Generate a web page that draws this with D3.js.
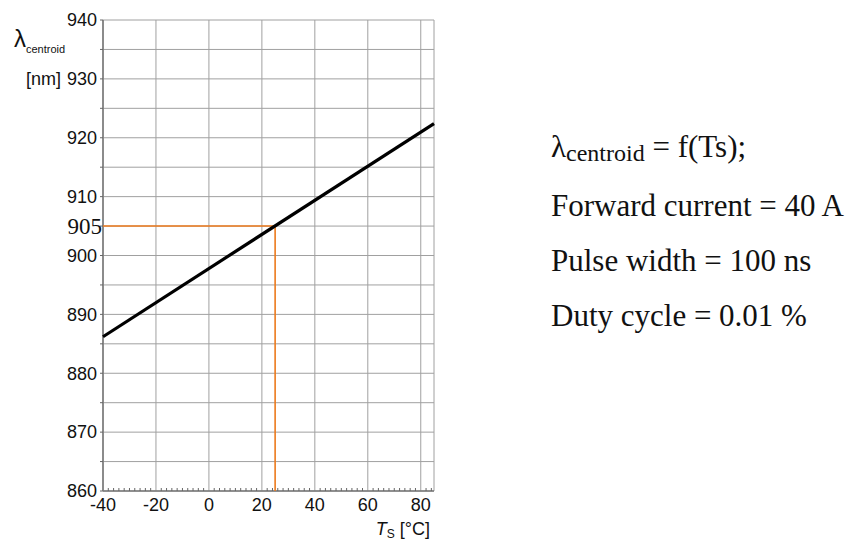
<!DOCTYPE html>
<html>
<head>
<meta charset="utf-8">
<title>Centroid wavelength vs. temperature</title>
<style>
  body { margin: 0; background: #fff; }
  svg text { font-family: "Liberation Sans", Arial, sans-serif; fill: #111; }
  svg text.serif { font-family: "Liberation Serif", "Times New Roman", serif; }
  .grid line { stroke: #a0a0a0; stroke-width: 1; }
</style>
</head>
<body>
<svg id="chart" width="858" height="542"></svg>

<script src="https://cdnjs.cloudflare.com/ajax/libs/d3/7.8.5/d3.min.js"></script>
<script>

// curve: centroid wavelength [nm] against case temperature [°C]
var tempC     = [-40, 85];
var lambdaNm  = [886.2, 922.4];

// marked operating point
var markT      = 25;
var markLambda = 905;

// axis ticks
var xTicks     = [-40, -20, 0, 20, 40, 60, 80];
var yTicks     = [860, 870, 880, 890, 900, 910, 920, 930, 940];
var yGridLines = d3.range(860, 941, 5);
var xMinor     = d3.range(-38, 85, 2).filter(function(d){ return d % 20 != 0; });

// text at the right
var infoLines = ["Forward current = 40 A", "Pulse width = 100 ns", "Duty cycle = 0.01 %"];

var svg = d3.select("#chart");

var x = d3.scaleLinear().domain([-40, 85]).range([103, 434]);
var y = d3.scaleLinear().domain([860, 940]).range([491, 20]);

// grid
var grid = svg.append("g").attr("class", "grid");
grid.selectAll(".h").data(yGridLines).enter().append("line")
  .attr("x1", x(-40)).attr("x2", x(85))
  .attr("y1", function(d){ return y(d); })
  .attr("y2", function(d){ return y(d); });
grid.selectAll(".v").data(xTicks.concat([85])).enter().append("line")
  .attr("y1", y(860)).attr("y2", y(940))
  .attr("x1", function(d){ return x(d); })
  .attr("x2", function(d){ return x(d); });

// left and bottom axis lines
svg.append("line").attr("x1", x(-40)).attr("x2", x(-40)).attr("y1", y(940)).attr("y2", y(860))
  .attr("stroke", "#7a7a7a").attr("stroke-width", 1.6);
svg.append("line").attr("x1", x(-40)).attr("x2", x(85)).attr("y1", y(860)).attr("y2", y(860))
  .attr("stroke", "#7a7a7a").attr("stroke-width", 1.6);

// y ticks (outside) every 5 nm
svg.selectAll(".yt").data(yGridLines).enter().append("line")
  .attr("x1", x(-40) - 3).attr("x2", x(-40))
  .attr("y1", function(d){ return y(d); })
  .attr("y2", function(d){ return y(d); })
  .attr("stroke", "#666").attr("stroke-width", 1);

// x minor ticks (inside) every 2 °C
svg.selectAll(".xm").data(xMinor).enter().append("line")
  .attr("x1", function(d){ return x(d); })
  .attr("x2", function(d){ return x(d); })
  .attr("y1", y(860)).attr("y2", y(860) - 3)
  .attr("stroke", "#666").attr("stroke-width", 1);

// orange guide lines to the operating point
var orange = "#ec7a1c";
svg.append("line").attr("x1", x(-40)).attr("x2", x(markT))
  .attr("y1", y(markLambda)).attr("y2", y(markLambda))
  .attr("stroke", orange).attr("stroke-width", 1.6);
svg.append("line").attr("x1", x(markT)).attr("x2", x(markT))
  .attr("y1", y(markLambda)).attr("y2", y(860))
  .attr("stroke", orange).attr("stroke-width", 1.6);

// the curve
var line = d3.line()
  .x(function(d, i){ return x(tempC[i]); })
  .y(function(d){ return y(d); });
svg.append("path").datum(lambdaNm)
  .attr("d", line)
  .attr("fill", "none").attr("stroke", "#000").attr("stroke-width", 3.2);

// y labels
svg.selectAll(".yl").data(yTicks).enter().append("text")
  .attr("x", 97)
  .attr("y", function(d){ return y(d); })
  .attr("dy", "0.35em")
  .attr("text-anchor", "end")
  .attr("font-size", 18)
  .text(function(d){ return d; });

svg.append("text").attr("class", "serif")
  .attr("x", 102).attr("y", y(markLambda)).attr("dy", "0.35em")
  .attr("text-anchor", "end").attr("font-size", 23)
  .text(markLambda);

// x labels
svg.selectAll(".xl").data(xTicks).enter().append("text")
  .attr("x", function(d){ return x(d); })
  .attr("y", 511)
  .attr("text-anchor", "middle")
  .attr("font-size", 18)
  .text(function(d){ return d; });

// y axis title
var yt = svg.append("text").attr("x", 14).attr("y", 47);
yt.append("tspan").attr("font-size", 24).text("λ");
yt.append("tspan").attr("font-size", 11).attr("dy", 6).text("centroid");
svg.append("text").attr("x", 26).attr("y", y(930)).attr("dy", "0.35em")
  .attr("font-size", 18).text("[nm]");

// x axis title
var xt = svg.append("text").attr("x", 430).attr("y", 535).attr("text-anchor", "end");
xt.append("tspan").attr("font-size", 18).attr("font-style", "italic").text("T");
xt.append("tspan").attr("font-size", 12).attr("dy", 3).text("S");
xt.append("tspan").attr("font-size", 18).attr("dy", -3).text(" [°C]");

// description on the right
var t0 = svg.append("text").attr("class", "serif").attr("x", 551).attr("y", 157);
t0.append("tspan").attr("font-size", 31).text("λ");
t0.append("tspan").attr("font-size", 24).attr("dy", 4).text("centroid");
t0.append("tspan").attr("font-size", 31).attr("dy", -4).text(" = f(Ts);");

svg.selectAll(".info").data(infoLines).enter().append("text")
  .attr("class", "serif")
  .attr("x", 551)
  .attr("y", function(d, i){ return 216 + i * 55; })
  .attr("font-size", 31)
  .text(function(d){ return d; });

</script>
</body>
</html>
